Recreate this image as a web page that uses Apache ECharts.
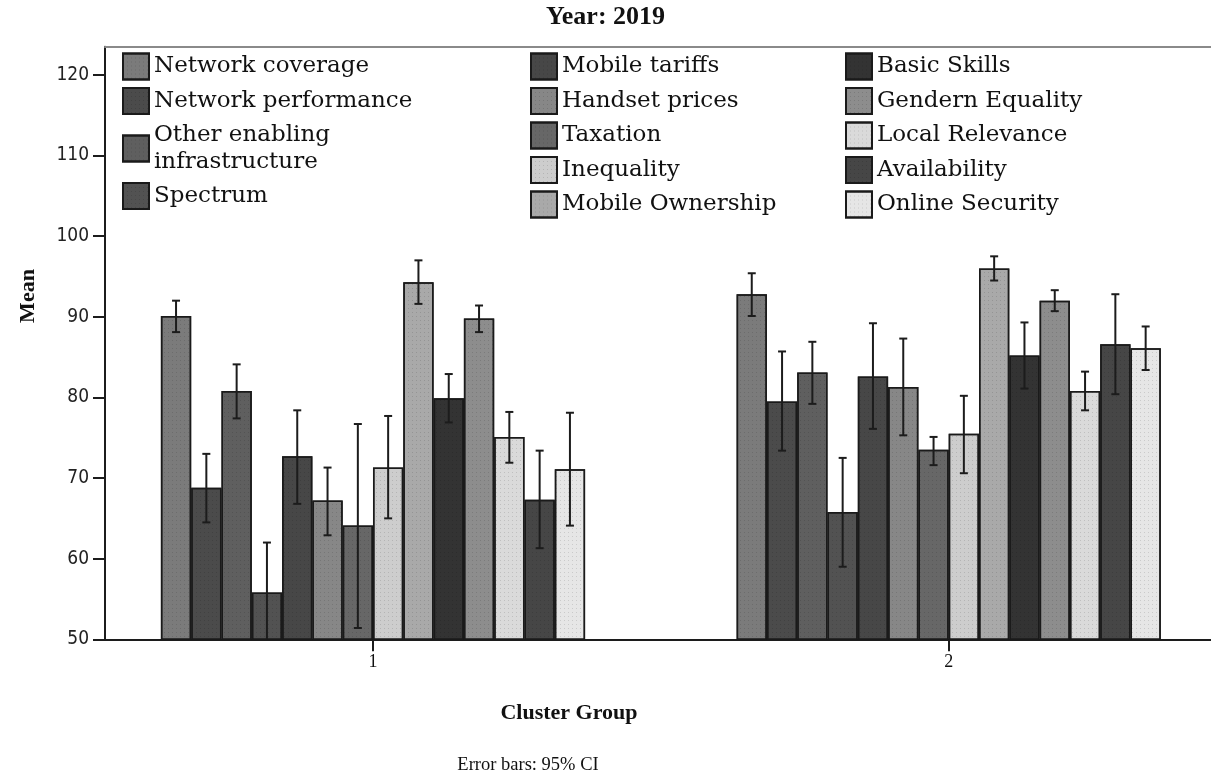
<!DOCTYPE html>
<html>
<head>
<meta charset="utf-8">
<script src="https://cdn.jsdelivr.net/npm/echarts@6/dist/echarts.min.js"></script>
<style>
  html, body { margin: 0; padding: 0; background: #ffffff; }
  #chart { width: 1211px; height: 777px; }
</style>
</head>
<body>
<div id="chart"></div>
<script>
// Cluster groups on the x axis and their tick labels
const clusterGroups = [1, 2];
const clusterTickLabels = ['1', '2'];
const meanTickValues = [50, 60, 70, 80, 90, 100, 110, 120];

// Indicators, in legend / bar order
const indicatorNames = [
  'Network coverage', 'Network performance', 'Other enabling infrastructure', 'Spectrum',
  'Mobile tariffs', 'Handset prices', 'Taxation', 'Inequality', 'Mobile Ownership',
  'Basic Skills', 'Gendern Equality', 'Local Relevance', 'Availability', 'Online Security'
];
const indicatorColors = [
  '#7b7b7b', '#4b4b4b', '#5f5f5f', '#525252',
  '#474747', '#878787', '#676767', '#cdcdcd', '#a9a9a9',
  '#333333', '#8d8d8d', '#dadada', '#464646', '#e6e6e6'
];

// Means per cluster group
const meanCluster1 = [90.1, 68.8, 80.8, 55.8, 72.7, 67.2, 64.1, 71.3, 94.3, 79.9, 89.8, 75.1, 67.3, 71.1];
const meanCluster2 = [92.8, 79.5, 83.1, 65.8, 82.6, 81.3, 73.5, 75.5, 96.0, 85.2, 92.0, 80.8, 86.6, 86.1];

// 95% confidence interval bounds per cluster group
const ciLowCluster1  = [88.1, 64.5, 77.4, 49.7, 66.8, 62.9, 51.4, 65.0, 91.6, 76.9, 88.1, 71.9, 61.3, 64.1];
const ciHighCluster1 = [92.0, 73.0, 84.1, 62.0, 78.4, 71.3, 76.7, 77.7, 97.0, 82.9, 91.4, 78.2, 73.4, 78.1];
const ciLowCluster2  = [90.1, 73.4, 79.2, 59.0, 76.1, 75.3, 71.6, 70.6, 94.5, 81.1, 90.7, 78.4, 80.4, 83.4];
const ciHighCluster2 = [95.4, 85.7, 86.9, 72.5, 89.2, 87.3, 75.1, 80.2, 97.5, 89.3, 93.3, 83.2, 92.8, 88.8];

const means = [meanCluster1, meanCluster2];
const ciLow = [ciLowCluster1, ciLowCluster2];
const ciHigh = [ciHighCluster1, ciHighCluster2];

const Y_MIN = 50;
const Y_MAX = 123.5;
const X_MIN = 0.5345;
const X_MAX = 2.4556;
const BAR_W = 30.3;
const SERIF = '"Liberation Serif", "Times New Roman", serif';
const LEGEND_FONT = '"DejaVu Serif", serif';

const n = indicatorNames.length;

// Fine stipple used by every fill
const stipple = {
  symbol: 'rect',
  symbolSize: 1,
  color: 'rgba(0, 0, 0, 0.12)',
  dashArrayX: [1, 3],
  dashArrayY: [1, 3]
};

const barSeries = indicatorNames.map((name, i) => ({
  name: name,
  type: 'bar',
  barWidth: BAR_W,
  barGap: '0%',
  data: clusterGroups.map((c, g) => [c, means[g][i]]),
  itemStyle: {
    color: indicatorColors[i],
    borderColor: '#1a1a1a',
    borderWidth: 1.5,
    decal: stipple
  },
  emphasis: { disabled: true }
}));

// Whiskers drawn at each bar's centre
const errorData = [];
indicatorNames.forEach((name, i) => {
  clusterGroups.forEach((c, g) => {
    errorData.push([c, ciLow[g][i], ciHigh[g][i], i]);
  });
});

const errorSeries = {
  name: 'CI',
  type: 'custom',
  silent: true,
  z: 10,
  encode: { x: 0, y: [1, 2] },
  data: errorData,
  renderItem: function (params, api) {
    const x = api.value(0);
    const lo = api.value(1);
    const hi = api.value(2);
    const idx = api.value(3);
    const dx = (idx - (n - 1) / 2) * BAR_W;
    const pHi = api.coord([x, hi]);
    const pLo = api.coord([x, Math.max(lo, Y_MIN)]);
    const cx = pHi[0] + dx;
    const cap = 4;
    const style = { stroke: '#1c1c1c', lineWidth: 2 };
    const children = [
      { type: 'line', shape: { x1: cx, y1: pHi[1], x2: cx, y2: pLo[1] }, style: style },
      { type: 'line', shape: { x1: cx - cap, y1: pHi[1], x2: cx + cap, y2: pHi[1] }, style: style }
    ];
    if (lo >= Y_MIN) {
      children.push({ type: 'line', shape: { x1: cx - cap, y1: pLo[1], x2: cx + cap, y2: pLo[1] }, style: style });
    }
    return { type: 'group', children: children };
  }
};

function legendColumn(names, left) {
  return {
    orient: 'vertical',
    left: left,
    top: 52.5,
    padding: 0,
    icon: 'rect',
    itemWidth: 26,
    itemHeight: 26,
    itemGap: 6.5,
    selectedMode: false,
    data: names,
    formatter: function (name) {
      return name === 'Other enabling infrastructure' ? 'Other enabling\ninfrastructure' : name;
    },
    textStyle: {
      fontFamily: LEGEND_FONT,
      fontSize: 23,
      color: '#111111',
      lineHeight: 27
    }
  };
}

const chart = echarts.init(document.getElementById('chart'), null, { renderer: 'canvas' });

chart.setOption({
  animation: false,
  backgroundColor: '#ffffff',
  title: {
    text: 'Year: 2019',
    left: 'center',
    top: 4,
    padding: 0,
    textStyle: { fontFamily: SERIF, fontWeight: 'bold', fontSize: 26, color: '#111111' }
  },
  legend: [
    legendColumn(indicatorNames.slice(0, 4), 122),
    legendColumn(indicatorNames.slice(4, 9), 530),
    legendColumn(indicatorNames.slice(9, 14), 845)
  ],
  grid: {
    left: 105,
    right: 0,
    top: 46.7,
    bottom: 137.7
  },
  xAxis: [
    {
      type: 'value',
      min: X_MIN,
      max: X_MAX,
      splitLine: { show: false },
      axisLine: { show: true, lineStyle: { color: '#1c1c1c', width: 2 } },
      axisTick: { show: true, customValues: clusterGroups, length: 12, lineStyle: { color: '#1c1c1c', width: 2 } },
      axisLabel: {
        customValues: clusterGroups,
        formatter: function (v) { return clusterTickLabels[clusterGroups.indexOf(v)]; },
        fontFamily: SERIF,
        fontSize: 18,
        color: '#111111',
        margin: 14
      }
    },
    {
      // plain frame line along the top of the plot
      type: 'value',
      position: 'top',
      min: X_MIN,
      max: X_MAX,
      splitLine: { show: false },
      axisLine: { show: true, lineStyle: { color: '#8a8a8a', width: 2 } },
      axisTick: { show: false },
      axisLabel: { show: false }
    }
  ],
  yAxis: {
    type: 'value',
    min: Y_MIN,
    max: Y_MAX,
    interval: 10,
    splitLine: { show: false },
    axisLine: { show: true, lineStyle: { color: '#1c1c1c', width: 2 } },
    axisTick: { show: true, customValues: meanTickValues, length: 12, lineStyle: { color: '#1c1c1c', width: 2 } },
    axisLabel: {
      customValues: meanTickValues,
      fontFamily: '"DejaVu Sans Condensed", "DejaVu Sans", sans-serif',
      fontSize: 19,
      color: '#222222',
      margin: 16
    }
  },
  graphic: [
    {
      type: 'text',
      x: 28,
      y: 296,
      rotation: Math.PI / 2,
      style: {
        text: 'Mean',
        fontFamily: SERIF,
        fontWeight: 'bold',
        fontSize: 22,
        fill: '#111111',
        align: 'center',
        verticalAlign: 'middle'
      }
    },
    {
      type: 'text',
      x: 569,
      y: 713,
      style: {
        text: 'Cluster Group',
        fontFamily: SERIF,
        fontWeight: 'bold',
        fontSize: 22,
        fill: '#111111',
        align: 'center',
        verticalAlign: 'middle'
      }
    },
    {
      type: 'text',
      x: 528,
      y: 765,
      style: {
        text: 'Error bars: 95% CI',
        fontFamily: SERIF,
        fontSize: 18.5,
        fill: '#111111',
        align: 'center',
        verticalAlign: 'middle'
      }
    }
  ],
  series: barSeries.concat([errorSeries])
});
</script>
</body>
</html>
